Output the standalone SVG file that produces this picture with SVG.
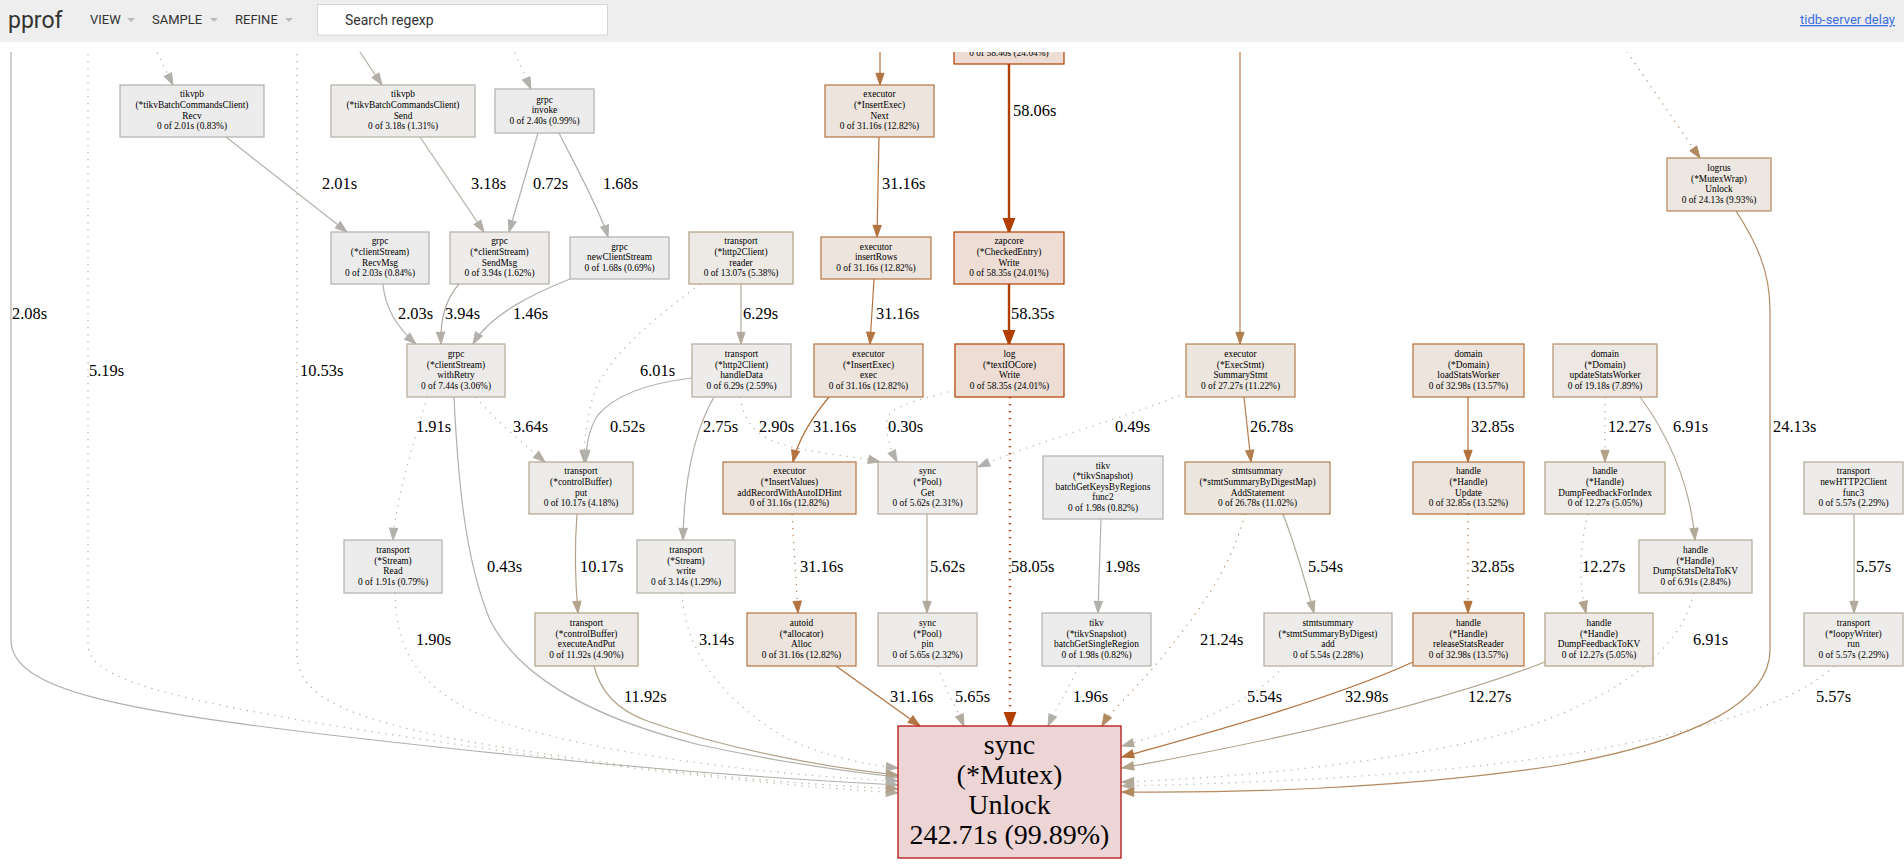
<svg xmlns="http://www.w3.org/2000/svg" width="1904" height="864" viewBox="0 0 1904 864">
<style>
.n rect{stroke-width:1.2}
.n text{font-family:"Liberation Serif","Times New Roman",serif;font-size:9.4px;text-anchor:middle;fill:#000}
.big text{font-size:28px}
#edges path{fill:none;stroke-width:1.2}
#edges .d{stroke-dasharray:1.2,5.8}
#edges .w{stroke-width:2.4}
#labels text{font-family:"Liberation Serif","Times New Roman",serif;font-size:16.4px;fill:#000}
.hd{font-family:Roboto,"Liberation Sans",sans-serif;fill:#333}
.cA{stroke:#b2b1ad}.cB{stroke:#b2b0ab}.cC{stroke:#b2aea5}.cD{stroke:#b2ab9d}.cE{stroke:#b2a898}
.cF{stroke:#b2a289}.cG{stroke:#b28a60}.cH{stroke:#b27e4e}.cI{stroke:#b27440}.cJ{stroke:#b2703a}.cK{stroke:#b23e00}
</style>
<defs>
<clipPath id="clip"><rect x="0" y="52" width="1904" height="812"/></clipPath>
<marker id="mA" markerUnits="userSpaceOnUse" markerWidth="12" markerHeight="9" refX="11.7" refY="4.5" orient="auto" overflow="visible"><path d="M0,0.4L11.7,4.5L0,8.6z" fill="#b2b1ad" stroke="#b2b1ad"/></marker>
<marker id="mB" markerUnits="userSpaceOnUse" markerWidth="12" markerHeight="9" refX="11.7" refY="4.5" orient="auto" overflow="visible"><path d="M0,0.4L11.7,4.5L0,8.6z" fill="#b2b0ab" stroke="#b2b0ab"/></marker>
<marker id="mC" markerUnits="userSpaceOnUse" markerWidth="12" markerHeight="9" refX="11.7" refY="4.5" orient="auto" overflow="visible"><path d="M0,0.4L11.7,4.5L0,8.6z" fill="#b2aea5" stroke="#b2aea5"/></marker>
<marker id="mD" markerUnits="userSpaceOnUse" markerWidth="12" markerHeight="9" refX="11.7" refY="4.5" orient="auto" overflow="visible"><path d="M0,0.4L11.7,4.5L0,8.6z" fill="#b2ab9d" stroke="#b2ab9d"/></marker>
<marker id="mE" markerUnits="userSpaceOnUse" markerWidth="12" markerHeight="9" refX="11.7" refY="4.5" orient="auto" overflow="visible"><path d="M0,0.4L11.7,4.5L0,8.6z" fill="#b2a898" stroke="#b2a898"/></marker>
<marker id="mF" markerUnits="userSpaceOnUse" markerWidth="12" markerHeight="9" refX="11.7" refY="4.5" orient="auto" overflow="visible"><path d="M0,0.4L11.7,4.5L0,8.6z" fill="#b2a289" stroke="#b2a289"/></marker>
<marker id="mG" markerUnits="userSpaceOnUse" markerWidth="12" markerHeight="9" refX="11.7" refY="4.5" orient="auto" overflow="visible"><path d="M0,0.4L11.7,4.5L0,8.6z" fill="#b28a60" stroke="#b28a60"/></marker>
<marker id="mH" markerUnits="userSpaceOnUse" markerWidth="12" markerHeight="9" refX="11.7" refY="4.5" orient="auto" overflow="visible"><path d="M0,0.4L11.7,4.5L0,8.6z" fill="#b27e4e" stroke="#b27e4e"/></marker>
<marker id="mI" markerUnits="userSpaceOnUse" markerWidth="12" markerHeight="9" refX="11.7" refY="4.5" orient="auto" overflow="visible"><path d="M0,0.4L11.7,4.5L0,8.6z" fill="#b27440" stroke="#b27440"/></marker>
<marker id="mJ" markerUnits="userSpaceOnUse" markerWidth="12" markerHeight="9" refX="11.7" refY="4.5" orient="auto" overflow="visible"><path d="M0,0.4L11.7,4.5L0,8.6z" fill="#b2703a" stroke="#b2703a"/></marker>
<marker id="mK" markerUnits="userSpaceOnUse" markerWidth="14" markerHeight="12" refX="13" refY="5.5" orient="auto" overflow="visible"><path d="M0,0.5L13,5.5L0,10.5z" fill="#b23e00" stroke="#b23e00" stroke-width="2"/></marker>
</defs>
<rect x="0" y="0" width="1904" height="864" fill="#fff"/>
<g clip-path="url(#clip)">
<g id="edges">
<path class="cB d" marker-end="url(#mB)" d="M151,40L173,85"/>
<path class="cC" marker-end="url(#mC)" d="M352,40L382,85"/>
<path class="cB d" marker-end="url(#mB)" d="M509,40L531,89"/>
<path class="cB" marker-end="url(#mB)" d="M11,40V640C11,690 120,710 330,735C520,757 700,775 898,785"/>
<path class="cD d" marker-end="url(#mD)" d="M88,40V645C88,680 180,700 330,725C520,755 700,780 898,793"/>
<path class="cF d" marker-end="url(#mF)" d="M297,40V655C297,700 360,720 460,740C600,765 750,782 898,789"/>
<path class="cI" marker-end="url(#mI)" d="M880,40L880,85"/>
<path class="cK w" marker-end="url(#mK)" d="M1009,64L1009,232"/>
<path class="cH" marker-end="url(#mH)" d="M1240,40L1240,344"/>
<path class="cG d" marker-end="url(#mG)" d="M1619,40L1700,158"/>
<path class="cB" marker-end="url(#mB)" d="M226,137L347,232"/>
<path class="cC" marker-end="url(#mC)" d="M420,137L484,232"/>
<path class="cA" marker-end="url(#mA)" d="M538,133L509,232"/>
<path class="cA" marker-end="url(#mA)" d="M559,133C575,165 600,210 608,237"/>
<path class="cB" marker-end="url(#mB)" d="M383,284C385,310 400,330 416,344"/>
<path class="cC" marker-end="url(#mC)" d="M459,284C445,300 440,320 441,344"/>
<path class="cA" marker-end="url(#mA)" d="M570,279C530,295 490,315 473,344"/>
<path class="cB d" marker-end="url(#mB)" d="M427,397C415,440 395,500 393,540"/>
<path class="cC d" marker-end="url(#mC)" d="M476,397C495,420 525,445 545,462"/>
<path class="cA" marker-end="url(#mA)" d="M454,397C458,480 465,560 490,620C520,680 600,720 700,745C780,762 850,772 898,777"/>
<path class="cF" marker-end="url(#mF)" d="M594,666C600,690 615,710 650,722C730,750 830,768 898,775"/>
<path class="cF" marker-end="url(#mF)" d="M577,514C575,540 575,580 578,613"/>
<path class="cD d" marker-end="url(#mD)" d="M700,284C660,315 605,355 592,400C586,425 584,445 584,462"/>
<path class="cD" marker-end="url(#mD)" d="M741,284L741,344"/>
<path class="cA" marker-end="url(#mA)" d="M692,378C650,383 615,395 598,415C588,430 586,448 586,462"/>
<path class="cC" marker-end="url(#mC)" d="M714,397C695,430 684,480 683,540"/>
<path class="cC d" marker-end="url(#mC)" d="M740,397C743,415 750,432 775,442C810,454 850,455 880,462"/>
<path class="cA d" marker-end="url(#mA)" d="M955,390C920,400 890,405 887,420C886,440 892,452 897,462"/>
<path class="cA d" marker-end="url(#mA)" d="M1186,393C1120,420 1040,440 978,467"/>
<path class="cI" marker-end="url(#mI)" d="M829,397C810,420 798,440 793,462"/>
<path class="cI" marker-end="url(#mI)" d="M874,279L870,344"/>
<path class="cI" marker-end="url(#mI)" d="M879,137L877,237"/>
<path class="cK w" marker-end="url(#mK)" d="M1009,284L1009,344"/>
<path class="cK w d" marker-end="url(#mK)" d="M1010,397L1010,726"/>
<path class="cH" marker-end="url(#mH)" d="M1244,397L1251,462"/>
<path class="cD" marker-end="url(#mD)" d="M1283,514C1295,545 1305,580 1314,613"/>
<path class="cG d" marker-end="url(#mG)" d="M1245,514C1230,570 1200,610 1160,660C1130,695 1110,712 1102,726"/>
<path class="cI d" marker-end="url(#mI)" d="M792,514L798,613"/>
<path class="cI" marker-end="url(#mI)" d="M836,666L920,726"/>
<path class="cD" marker-end="url(#mD)" d="M927,514L927,613"/>
<path class="cD d" marker-end="url(#mD)" d="M938,666C945,690 955,705 964,726"/>
<path class="cB" marker-end="url(#mB)" d="M1101,519L1098,613"/>
<path class="cB d" marker-end="url(#mB)" d="M1079,666C1068,690 1056,708 1048,726"/>
<path class="cC d" marker-end="url(#mC)" d="M682,593C685,650 720,700 790,740C830,758 870,765 898,768"/>
<path class="cB d" marker-end="url(#mB)" d="M395,593C396,640 410,680 470,710C560,750 760,775 898,781"/>
<path class="cD d" marker-end="url(#mD)" d="M1283,666C1260,700 1180,730 1122,746"/>
<path class="cJ" marker-end="url(#mJ)" d="M1413,662C1330,700 1200,735 1122,757"/>
<path class="cF" marker-end="url(#mF)" d="M1545,662C1420,710 1250,745 1122,768"/>
<path class="cE d" marker-end="url(#mE)" d="M1694,593C1680,650 1620,700 1500,735C1380,765 1230,778 1122,782"/>
<path class="cD d" marker-end="url(#mD)" d="M1834,666C1800,700 1720,725 1620,745C1470,775 1260,783 1122,786"/>
<path class="cG" marker-end="url(#mG)" d="M1736,211C1755,240 1770,270 1770,310L1770,650C1770,700 1700,740 1560,765C1400,790 1220,793 1122,792"/>
<path class="cJ" marker-end="url(#mJ)" d="M1468,397L1468,462"/>
<path class="cF d" marker-end="url(#mF)" d="M1605,397L1605,462"/>
<path class="cE" marker-end="url(#mE)" d="M1640,397C1665,430 1690,480 1695,540"/>
<path class="cJ d" marker-end="url(#mJ)" d="M1468,514L1468,613"/>
<path class="cF d" marker-end="url(#mF)" d="M1588,514C1580,545 1578,580 1586,613"/>
<path class="cD" marker-end="url(#mD)" d="M1854,514L1854,613"/>
</g>
<g id="labels">
<text x="12" y="319">2.08s</text>
<text x="89" y="376">5.19s</text>
<text x="300" y="376">10.53s</text>
<text x="322" y="189">2.01s</text>
<text x="471" y="189">3.18s</text>
<text x="533" y="189">0.72s</text>
<text x="603" y="189">1.68s</text>
<text x="1013" y="116">58.06s</text>
<text x="882" y="189">31.16s</text>
<text x="398" y="319">2.03s</text>
<text x="445" y="319">3.94s</text>
<text x="513" y="319">1.46s</text>
<text x="743" y="319">6.29s</text>
<text x="876" y="319">31.16s</text>
<text x="1011" y="319">58.35s</text>
<text x="640" y="376">6.01s</text>
<text x="416" y="432">1.91s</text>
<text x="513" y="432">3.64s</text>
<text x="610" y="432">0.52s</text>
<text x="703" y="432">2.75s</text>
<text x="759" y="432">2.90s</text>
<text x="813" y="432">31.16s</text>
<text x="888" y="432">0.30s</text>
<text x="1115" y="432">0.49s</text>
<text x="1250" y="432">26.78s</text>
<text x="1471" y="432">32.85s</text>
<text x="1608" y="432">12.27s</text>
<text x="1673" y="432">6.91s</text>
<text x="1773" y="432">24.13s</text>
<text x="487" y="572">0.43s</text>
<text x="580" y="572">10.17s</text>
<text x="800" y="572">31.16s</text>
<text x="930" y="572">5.62s</text>
<text x="1011" y="572">58.05s</text>
<text x="1105" y="572">1.98s</text>
<text x="1308" y="572">5.54s</text>
<text x="1471" y="572">32.85s</text>
<text x="1582" y="572">12.27s</text>
<text x="1856" y="572">5.57s</text>
<text x="416" y="645">1.90s</text>
<text x="699" y="645">3.14s</text>
<text x="1200" y="645">21.24s</text>
<text x="1693" y="645">6.91s</text>
<text x="624" y="702">11.92s</text>
<text x="890" y="702">31.16s</text>
<text x="955" y="702">5.65s</text>
<text x="1073" y="702">1.96s</text>
<text x="1247" y="702">5.54s</text>
<text x="1345" y="702">32.98s</text>
<text x="1468" y="702">12.27s</text>
<text x="1816" y="702">5.57s</text>
</g>
<g id="n-top" class="n"><rect x="954" y="12" width="110" height="52" fill="#edddd5" stroke="#b23e00"/><text x="1009" y="56">0 of 58.40s (24.04%)</text></g>
<g id="n-recv" class="n"><rect x="120" y="85" width="144" height="52" fill="#edecec" stroke="#b2b0ab"/><text x="192" y="97.4">tikvpb<tspan x="192" dy="10.6">(*tikvBatchCommandsClient)</tspan><tspan x="192" dy="10.6">Recv</tspan><tspan x="192" dy="10.6">0 of 2.01s (0.83%)</tspan></text></g>
<g id="n-send" class="n"><rect x="331" y="85" width="144" height="52" fill="#edeceb" stroke="#b2afa6"/><text x="403" y="97.4">tikvpb<tspan x="403" dy="10.6">(*tikvBatchCommandsClient)</tspan><tspan x="403" dy="10.6">Send</tspan><tspan x="403" dy="10.6">0 of 3.18s (1.31%)</tspan></text></g>
<g id="n-invoke" class="n"><rect x="495" y="89" width="99" height="44" fill="#edecec" stroke="#b2b0aa"/><text x="544.5" y="102.7">grpc<tspan x="544.5" dy="10.6">invoke</tspan><tspan x="544.5" dy="10.6">0 of 2.40s (0.99%)</tspan></text></g>
<g id="n-next" class="n"><rect x="825" y="85" width="109" height="52" fill="#ede4dd" stroke="#b27440"/><text x="879.5" y="97.4">executor<tspan x="879.5" dy="10.6">(*InsertExec)</tspan><tspan x="879.5" dy="10.6">Next</tspan><tspan x="879.5" dy="10.6">0 of 31.16s (12.82%)</tspan></text></g>
<g id="n-logrus" class="n"><rect x="1667" y="158" width="104" height="53" fill="#ede7e1" stroke="#b28659"/><text x="1719" y="170.9">logrus<tspan x="1719" dy="10.6">(*MutexWrap)</tspan><tspan x="1719" dy="10.6">Unlock</tspan><tspan x="1719" dy="10.6">0 of 24.13s (9.93%)</tspan></text></g>
<g id="n-recvmsg" class="n"><rect x="331" y="232" width="98" height="52" fill="#edecec" stroke="#b2b0ab"/><text x="380" y="244.4">grpc<tspan x="380" dy="10.6">(*clientStream)</tspan><tspan x="380" dy="10.6">RecvMsg</tspan><tspan x="380" dy="10.6">0 of 2.03s (0.84%)</tspan></text></g>
<g id="n-sendmsg" class="n"><rect x="450" y="232" width="99" height="52" fill="#edeceb" stroke="#b2aea4"/><text x="499.5" y="244.4">grpc<tspan x="499.5" dy="10.6">(*clientStream)</tspan><tspan x="499.5" dy="10.6">SendMsg</tspan><tspan x="499.5" dy="10.6">0 of 3.94s (1.62%)</tspan></text></g>
<g id="n-newcs" class="n"><rect x="570" y="237" width="99" height="42" fill="#edecec" stroke="#b2b0ac"/><text x="619.5" y="249.7">grpc<tspan x="619.5" dy="10.6">newClientStream</tspan><tspan x="619.5" dy="10.6">0 of 1.68s (0.69%)</tspan></text></g>
<g id="n-reader" class="n"><rect x="689" y="232" width="104" height="52" fill="#edeae6" stroke="#b29e82"/><text x="741" y="244.4">transport<tspan x="741" dy="10.6">(*http2Client)</tspan><tspan x="741" dy="10.6">reader</tspan><tspan x="741" dy="10.6">0 of 13.07s (5.38%)</tspan></text></g>
<g id="n-insertrows" class="n"><rect x="821" y="237" width="110" height="42" fill="#ede4dd" stroke="#b27440"/><text x="876" y="249.7">executor<tspan x="876" dy="10.6">insertRows</tspan><tspan x="876" dy="10.6">0 of 31.16s (12.82%)</tspan></text></g>
<g id="n-zapcore" class="n"><rect x="954" y="232" width="110" height="52" fill="#edddd5" stroke="#b23e00"/><text x="1009" y="244.4">zapcore<tspan x="1009" dy="10.6">(*CheckedEntry)</tspan><tspan x="1009" dy="10.6">Write</tspan><tspan x="1009" dy="10.6">0 of 58.35s (24.01%)</tspan></text></g>
<g id="n-withretry" class="n"><rect x="407" y="344" width="98" height="53" fill="#edebe9" stroke="#b2a897"/><text x="456" y="356.9">grpc<tspan x="456" dy="10.6">(*clientStream)</tspan><tspan x="456" dy="10.6">withRetry</tspan><tspan x="456" dy="10.6">0 of 7.44s (3.06%)</tspan></text></g>
<g id="n-handledata" class="n"><rect x="692" y="344" width="99" height="53" fill="#edecea" stroke="#b2aa9b"/><text x="741.5" y="356.9">transport<tspan x="741.5" dy="10.6">(*http2Client)</tspan><tspan x="741.5" dy="10.6">handleData</tspan><tspan x="741.5" dy="10.6">0 of 6.29s (2.59%)</tspan></text></g>
<g id="n-exec" class="n"><rect x="814" y="344" width="109" height="53" fill="#ede4dd" stroke="#b27440"/><text x="868.5" y="356.9">executor<tspan x="868.5" dy="10.6">(*InsertExec)</tspan><tspan x="868.5" dy="10.6">exec</tspan><tspan x="868.5" dy="10.6">0 of 31.16s (12.82%)</tspan></text></g>
<g id="n-log" class="n"><rect x="955" y="344" width="109" height="53" fill="#edddd5" stroke="#b23e00"/><text x="1009.5" y="356.9">log<tspan x="1009.5" dy="10.6">(*textIOCore)</tspan><tspan x="1009.5" dy="10.6">Write</tspan><tspan x="1009.5" dy="10.6">0 of 58.35s (24.01%)</tspan></text></g>
<g id="n-execstmt" class="n"><rect x="1186" y="344" width="109" height="53" fill="#ede6df" stroke="#b27e4e"/><text x="1240.5" y="356.9">executor<tspan x="1240.5" dy="10.6">(*ExecStmt)</tspan><tspan x="1240.5" dy="10.6">SummaryStmt</tspan><tspan x="1240.5" dy="10.6">0 of 27.27s (11.22%)</tspan></text></g>
<g id="n-loadstats" class="n"><rect x="1413" y="344" width="111" height="53" fill="#ede4dd" stroke="#b27039"/><text x="1468.5" y="356.9">domain<tspan x="1468.5" dy="10.6">(*Domain)</tspan><tspan x="1468.5" dy="10.6">loadStatsWorker</tspan><tspan x="1468.5" dy="10.6">0 of 32.98s (13.57%)</tspan></text></g>
<g id="n-updatestats" class="n"><rect x="1553" y="344" width="104" height="53" fill="#ede8e3" stroke="#b2916c"/><text x="1605" y="356.9">domain<tspan x="1605" dy="10.6">(*Domain)</tspan><tspan x="1605" dy="10.6">updateStatsWorker</tspan><tspan x="1605" dy="10.6">0 of 19.18s (7.89%)</tspan></text></g>
<g id="n-put" class="n"><rect x="529" y="462" width="104" height="52" fill="#edebe8" stroke="#b2a48d"/><text x="581" y="474.4">transport<tspan x="581" dy="10.6">(*controlBuffer)</tspan><tspan x="581" dy="10.6">put</tspan><tspan x="581" dy="10.6">0 of 10.17s (4.18%)</tspan></text></g>
<g id="n-addrecord" class="n"><rect x="723" y="462" width="133" height="52" fill="#ede4dd" stroke="#b27440"/><text x="789.5" y="474.4">executor<tspan x="789.5" dy="10.6">(*InsertValues)</tspan><tspan x="789.5" dy="10.6">addRecordWithAutoIDHint</tspan><tspan x="789.5" dy="10.6">0 of 31.16s (12.82%)</tspan></text></g>
<g id="n-get" class="n"><rect x="878" y="462" width="99" height="52" fill="#edecea" stroke="#b2ab9d"/><text x="927.5" y="474.4">sync<tspan x="927.5" dy="10.6">(*Pool)</tspan><tspan x="927.5" dy="10.6">Get</tspan><tspan x="927.5" dy="10.6">0 of 5.62s (2.31%)</tspan></text></g>
<g id="n-batchkeys" class="n"><rect x="1043" y="456" width="120" height="63" fill="#edecec" stroke="#b2b0ab"/><text x="1103" y="468.6">tikv<tspan x="1103" dy="10.6">(*tikvSnapshot)</tspan><tspan x="1103" dy="10.6">batchGetKeysByRegions</tspan><tspan x="1103" dy="10.6">func2</tspan><tspan x="1103" dy="10.6">0 of 1.98s (0.82%)</tspan></text></g>
<g id="n-addstatement" class="n"><rect x="1185" y="462" width="145" height="52" fill="#ede6df" stroke="#b27f4f"/><text x="1257.5" y="474.4">stmtsummary<tspan x="1257.5" dy="10.6">(*stmtSummaryByDigestMap)</tspan><tspan x="1257.5" dy="10.6">AddStatement</tspan><tspan x="1257.5" dy="10.6">0 of 26.78s (11.02%)</tspan></text></g>
<g id="n-update" class="n"><rect x="1413" y="462" width="111" height="52" fill="#ede4dd" stroke="#b2703a"/><text x="1468.5" y="474.4">handle<tspan x="1468.5" dy="10.6">(*Handle)</tspan><tspan x="1468.5" dy="10.6">Update</tspan><tspan x="1468.5" dy="10.6">0 of 32.85s (13.52%)</tspan></text></g>
<g id="n-dumpfbidx" class="n"><rect x="1545" y="462" width="120" height="52" fill="#edeae7" stroke="#b2a085"/><text x="1605" y="474.4">handle<tspan x="1605" dy="10.6">(*Handle)</tspan><tspan x="1605" dy="10.6">DumpFeedbackForIndex</tspan><tspan x="1605" dy="10.6">0 of 12.27s (5.05%)</tspan></text></g>
<g id="n-func3" class="n"><rect x="1804" y="462" width="99" height="52" fill="#edecea" stroke="#b2ab9d"/><text x="1853.5" y="474.4">transport<tspan x="1853.5" dy="10.6">newHTTP2Client</tspan><tspan x="1853.5" dy="10.6">func3</tspan><tspan x="1853.5" dy="10.6">0 of 5.57s (2.29%)</tspan></text></g>
<g id="n-read" class="n"><rect x="344" y="540" width="98" height="53" fill="#edecec" stroke="#b2b0ab"/><text x="393" y="552.9">transport<tspan x="393" dy="10.6">(*Stream)</tspan><tspan x="393" dy="10.6">Read</tspan><tspan x="393" dy="10.6">0 of 1.91s (0.79%)</tspan></text></g>
<g id="n-write" class="n"><rect x="637" y="540" width="98" height="53" fill="#edeceb" stroke="#b2afa6"/><text x="686" y="552.9">transport<tspan x="686" dy="10.6">(*Stream)</tspan><tspan x="686" dy="10.6">write</tspan><tspan x="686" dy="10.6">0 of 3.14s (1.29%)</tspan></text></g>
<g id="n-dumpdelta" class="n"><rect x="1639" y="540" width="113" height="53" fill="#edebe9" stroke="#b2a898"/><text x="1695.5" y="552.9">handle<tspan x="1695.5" dy="10.6">(*Handle)</tspan><tspan x="1695.5" dy="10.6">DumpStatsDeltaToKV</tspan><tspan x="1695.5" dy="10.6">0 of 6.91s (2.84%)</tspan></text></g>
<g id="n-executeandput" class="n"><rect x="535" y="613" width="103" height="53" fill="#edeae7" stroke="#b2a086"/><text x="586.5" y="625.9">transport<tspan x="586.5" dy="10.6">(*controlBuffer)</tspan><tspan x="586.5" dy="10.6">executeAndPut</tspan><tspan x="586.5" dy="10.6">0 of 11.92s (4.90%)</tspan></text></g>
<g id="n-alloc" class="n"><rect x="747" y="613" width="109" height="53" fill="#ede4dd" stroke="#b27440"/><text x="801.5" y="625.9">autoid<tspan x="801.5" dy="10.6">(*allocator)</tspan><tspan x="801.5" dy="10.6">Alloc</tspan><tspan x="801.5" dy="10.6">0 of 31.16s (12.82%)</tspan></text></g>
<g id="n-pin" class="n"><rect x="878" y="613" width="99" height="53" fill="#edecea" stroke="#b2ab9d"/><text x="927.5" y="625.9">sync<tspan x="927.5" dy="10.6">(*Pool)</tspan><tspan x="927.5" dy="10.6">pin</tspan><tspan x="927.5" dy="10.6">0 of 5.65s (2.32%)</tspan></text></g>
<g id="n-singleregion" class="n"><rect x="1042" y="613" width="109" height="53" fill="#edecec" stroke="#b2b0ab"/><text x="1096.5" y="625.9">tikv<tspan x="1096.5" dy="10.6">(*tikvSnapshot)</tspan><tspan x="1096.5" dy="10.6">batchGetSingleRegion</tspan><tspan x="1096.5" dy="10.6">0 of 1.98s (0.82%)</tspan></text></g>
<g id="n-add" class="n"><rect x="1264" y="613" width="128" height="53" fill="#edecea" stroke="#b2ab9d"/><text x="1328" y="625.9">stmtsummary<tspan x="1328" dy="10.6">(*stmtSummaryByDigest)</tspan><tspan x="1328" dy="10.6">add</tspan><tspan x="1328" dy="10.6">0 of 5.54s (2.28%)</tspan></text></g>
<g id="n-release" class="n"><rect x="1413" y="613" width="111" height="53" fill="#ede4dd" stroke="#b27039"/><text x="1468.5" y="625.9">handle<tspan x="1468.5" dy="10.6">(*Handle)</tspan><tspan x="1468.5" dy="10.6">releaseStatsReader</tspan><tspan x="1468.5" dy="10.6">0 of 32.98s (13.57%)</tspan></text></g>
<g id="n-dumpfbkv" class="n"><rect x="1545" y="613" width="108" height="53" fill="#edeae7" stroke="#b2a085"/><text x="1599" y="625.9">handle<tspan x="1599" dy="10.6">(*Handle)</tspan><tspan x="1599" dy="10.6">DumpFeedbackToKV</tspan><tspan x="1599" dy="10.6">0 of 12.27s (5.05%)</tspan></text></g>
<g id="n-run" class="n"><rect x="1804" y="613" width="99" height="53" fill="#edecea" stroke="#b2ab9d"/><text x="1853.5" y="625.9">transport<tspan x="1853.5" dy="10.6">(*loopyWriter)</tspan><tspan x="1853.5" dy="10.6">run</tspan><tspan x="1853.5" dy="10.6">0 of 5.57s (2.29%)</tspan></text></g>
<g id="n-mutex" class="n big"><rect x="898" y="726" width="223" height="132" fill="#edd5d5" stroke="#b20000" stroke-width="1.5"/><text x="1009.5" y="754">sync<tspan x="1009.5" dy="30">(*Mutex)</tspan><tspan x="1009.5" dy="30">Unlock</tspan><tspan x="1009.5" dy="30">242.71s (99.89%)</tspan></text></g>
</g>
<g id="header">
<rect x="0" y="0" width="1904" height="42" fill="#eeeeee"/>
<text class="hd" x="8" y="28" font-size="23" fill="#222">pprof</text>
<text class="hd" x="90" y="24" font-size="13">VIEW</text>
<path d="M127,18L135,18L131,22z" fill="#bbb"/>
<text class="hd" x="152" y="24" font-size="13">SAMPLE</text>
<path d="M210,18L218,18L214,22z" fill="#bbb"/>
<text class="hd" x="235" y="24" font-size="13">REFINE</text>
<path d="M285,18L293,18L289,22z" fill="#bbb"/>
<rect x="317.5" y="4.5" width="290" height="30.5" fill="#fff" stroke="#d6d6d6"/>
<text class="hd" x="345" y="24.5" font-size="14" fill="#757575">Search regexp</text>
<text x="1800" y="24" font-family="Roboto,'Liberation Sans',sans-serif" font-size="13" fill="#3b6fe0" text-decoration="underline">tidb-server delay</text>
</g>
</svg>
